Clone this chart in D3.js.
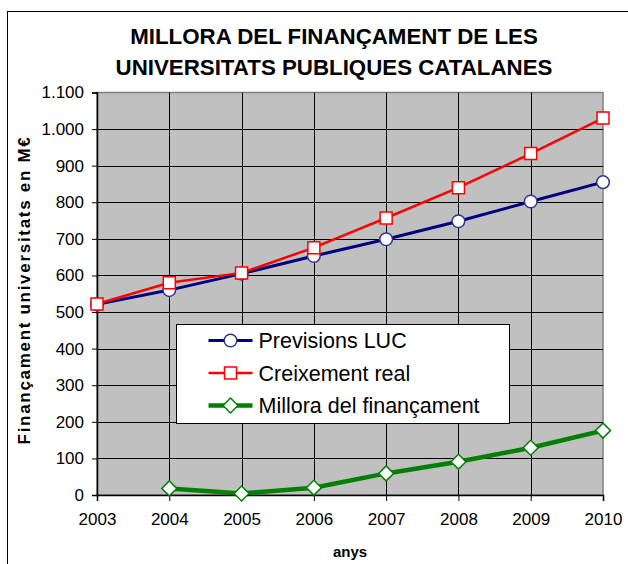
<!DOCTYPE html>
<html>
<head>
<meta charset="utf-8">
<script src="https://cdn.jsdelivr.net/npm/d3@7"></script>
<style>
  body { margin: 0; background: #fff; }
  svg { font-family: "Liberation Sans", Arial, sans-serif; display: block; }
</style>
</head>
<body>
<svg id="chart" width="628" height="564"></svg>
<script>
// chart data
var years = [2003, 2004, 2005, 2006, 2007, 2008, 2009, 2010];
var previsionsLUC = [521, 560, 605, 653, 699, 748, 802, 855];
var creixementReal = [522, 580, 607, 676, 757, 840, 933, 1030];
var milloraYears = [2004, 2005, 2006, 2007, 2008, 2009, 2010];
var millora = [18, 4, 20, 59, 91, 129, 176];
var yTicks = [0, 100, 200, 300, 400, 500, 600, 700, 800, 900, 1000, 1100];
var titleLines = ["MILLORA DEL FINANÇAMENT DE LES", "UNIVERSITATS PUBLIQUES CATALANES"];
var legendNames = ["Previsions LUC", "Creixement real", "Millora del finançament"];

var svg = d3.select("#chart");

// outer chart border (runs off the right/bottom of the picture)
svg.append("rect").attr("x", 7.5).attr("y", 11.5)
  .attr("width", 640).attr("height", 580)
  .attr("fill", "#fff").attr("stroke", "#000").attr("stroke-width", 1);

var pLeft = 97, pRight = 603, pTop = 92.5, pBottom = 495;

var x = d3.scaleLinear().domain([2003, 2010]).range([pLeft, pRight]);
var y = d3.scaleLinear().domain([0, 1100]).range([pBottom, pTop]);

var loc = d3.formatLocale({decimal: ",", thousands: ".", grouping: [3], currency: ["", "€"]});
var fmt = loc.format(",d");

// plot area
svg.append("rect").attr("x", pLeft).attr("y", pTop)
  .attr("width", pRight - pLeft).attr("height", pBottom - pTop)
  .attr("fill", "#c0c0c0").attr("stroke", "#808080").attr("stroke-width", 1.5);

// gridlines
svg.append("g").selectAll("line").data(yTicks.slice(1, -1)).enter().append("line")
  .attr("x1", pLeft).attr("x2", pRight)
  .attr("y1", function(d) { return Math.round(y(d)) + 0.5; })
  .attr("y2", function(d) { return Math.round(y(d)) + 0.5; })
  .attr("stroke", "#000").attr("stroke-width", 1);

svg.append("g").selectAll("line").data(years.slice(1, -1)).enter().append("line")
  .attr("y1", pTop).attr("y2", pBottom)
  .attr("x1", function(d) { return Math.round(x(d)) + 0.5; })
  .attr("x2", function(d) { return Math.round(x(d)) + 0.5; })
  .attr("stroke", "#000").attr("stroke-width", 1);

// axes
var yAxis = svg.append("g").attr("transform", "translate(" + pLeft + ",0)")
  .call(d3.axisLeft(y).tickValues(yTicks).tickFormat(fmt).tickSize(5).tickPadding(8));
var xAxis = svg.append("g").attr("transform", "translate(0," + pBottom + ")")
  .call(d3.axisBottom(x).tickValues(years).tickFormat(d3.format("d")).tickSize(6).tickPadding(8));

[yAxis, xAxis].forEach(function(a) {
  a.select(".domain").attr("stroke", "#000").attr("stroke-width", 1.5);
  a.selectAll(".tick line").attr("stroke", "#000");
  a.selectAll("text").attr("font-size", 17).attr("fill", "#000")
    .attr("font-family", "'Liberation Sans', Arial, sans-serif");
});
xAxis.selectAll("text").attr("dy", "0.95em");

// titles
svg.append("g").selectAll("text").data(titleLines).enter().append("text")
  .attr("x", 334).attr("y", function(d, i) { return 44 + i * 31; })
  .attr("text-anchor", "middle").attr("font-weight", "bold").attr("font-size", 22.3)
  .text(function(d) { return d; });

svg.append("text").attr("x", 350).attr("y", 557)
  .attr("text-anchor", "middle").attr("font-weight", "bold").attr("font-size", 15)
  .text("anys");

svg.append("text").attr("transform", "translate(30,290) rotate(-90)")
  .attr("text-anchor", "middle").attr("font-weight", "bold").attr("font-size", 17)
  .attr("letter-spacing", 1.7)
  .text("Finançament universitats en M€");

// series (diamond = square turned 45deg)
var series = [
  {name: legendNames[0], xs: years, vals: previsionsLUC, color: "#000080", mark: "#333399", width: 3, shape: d3.symbolCircle, size: 125, rot: 0},
  {name: legendNames[1], xs: years, vals: creixementReal, color: "#ff0000", mark: "#ff0000", width: 2.5, shape: d3.symbolSquare, size: 144, rot: 0},
  {name: legendNames[2], xs: milloraYears, vals: millora, color: "#008000", mark: "#008000", width: 4.5, shape: d3.symbolSquare, size: 112, rot: 45}
];

var line = d3.line().x(function(d) { return x(d[0]); }).y(function(d) { return y(d[1]); });

series.forEach(function(s) {
  var pts = s.xs.map(function(yr, i) { return [yr, s.vals[i]]; });
  svg.append("path").datum(pts).attr("d", line)
    .attr("fill", "none").attr("stroke", s.color).attr("stroke-width", s.width);
  svg.append("g").selectAll("path").data(pts).enter().append("path")
    .attr("d", d3.symbol().type(s.shape).size(s.size))
    .attr("transform", function(d) { return "translate(" + x(d[0]) + "," + y(d[1]) + ") rotate(" + s.rot + ")"; })
    .attr("fill", "#fff").attr("stroke", s.mark).attr("stroke-width", 1.5);
});

// legend
var lg = svg.append("g").attr("transform", "translate(176.5,324.5)");
lg.append("rect").attr("width", 333).attr("height", 99)
  .attr("fill", "#fff").attr("stroke", "#000").attr("stroke-width", 1);

var rows = lg.selectAll("g").data(series).enter().append("g")
  .attr("transform", function(d, i) { return "translate(0," + (16 + i * 32.5) + ")"; });
rows.append("line").attr("x1", 32).attr("x2", 76)
  .attr("stroke", function(d) { return d.color; })
  .attr("stroke-width", function(d) { return d.width; });
rows.append("path")
  .attr("d", function(d) { return d3.symbol().type(d.shape).size(d.size)(); })
  .attr("transform", function(d) { return "translate(54,0) rotate(" + d.rot + ")"; })
  .attr("fill", "#fff").attr("stroke", function(d) { return d.mark; }).attr("stroke-width", 1.5);
rows.append("text").attr("x", 82).attr("dy", "0.36em")
  .attr("font-size", 21.5)
  .text(function(d) { return d.name; });
</script>
</body>
</html>
